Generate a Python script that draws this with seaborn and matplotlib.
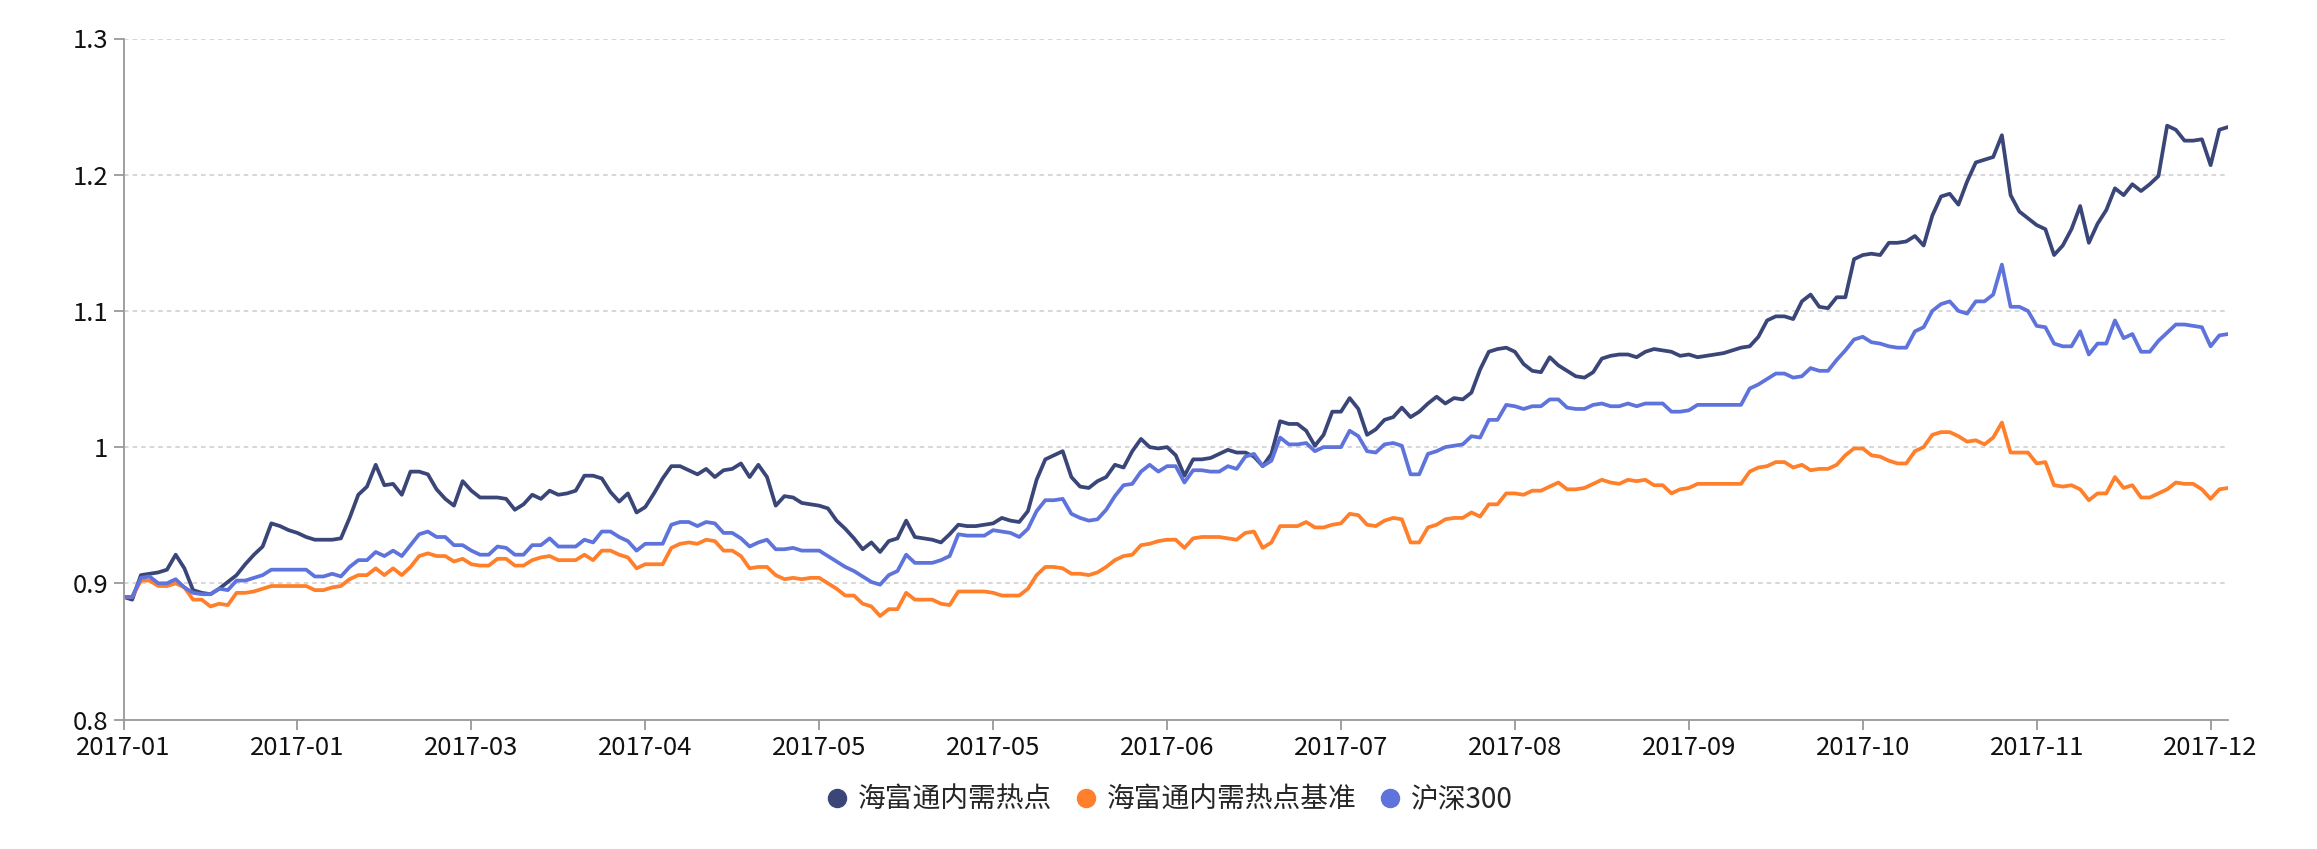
import numpy as np
import pandas as pd
import matplotlib
matplotlib.use("Agg")
import matplotlib.pyplot as plt
import seaborn as sns
from matplotlib.lines import Line2D
from matplotlib.ticker import FuncFormatter

series_names = ["海富通内需热点", "海富通内需热点基准", "沪深300"]
series_colors = ["#3a4678", "#ff7f2a", "#5e73db"]

x_tick_labels = ["2017-01", "2017-01", "2017-03", "2017-04", "2017-05", "2017-05",
                 "2017-06", "2017-07", "2017-08", "2017-09", "2017-10", "2017-11", "2017-12"]
label_every = 20
y_ticks = [0.8, 0.9, 1.0, 1.1, 1.2, 1.3]

fund = [
    0.890, 0.888, 0.906, 0.907, 0.908, 0.910, 0.921, 0.911, 0.895, 0.893,
    0.892, 0.896, 0.901, 0.906, 0.914, 0.921, 0.927, 0.944, 0.942, 0.939,
    0.937, 0.934, 0.932, 0.932, 0.932, 0.933, 0.948, 0.965, 0.971, 0.987,
    0.972, 0.973, 0.965, 0.982, 0.982, 0.980, 0.969, 0.962, 0.957, 0.975,
    0.968, 0.963, 0.963, 0.963, 0.962, 0.954, 0.958, 0.965, 0.962, 0.968,
    0.965, 0.966, 0.968, 0.979, 0.979, 0.977, 0.967, 0.960, 0.966, 0.952,
    0.956, 0.966, 0.977, 0.986, 0.986, 0.983, 0.980, 0.984, 0.978, 0.983,
    0.984, 0.988, 0.978, 0.987, 0.978, 0.957, 0.964, 0.963, 0.959, 0.958,
    0.957, 0.955, 0.946, 0.940, 0.933, 0.925, 0.930, 0.923, 0.931, 0.933,
    0.946, 0.934, 0.933, 0.932, 0.930, 0.936, 0.943, 0.942, 0.942, 0.943,
    0.944, 0.948, 0.946, 0.945, 0.953, 0.976, 0.991, 0.994, 0.997, 0.978,
    0.971, 0.970, 0.975, 0.978, 0.987, 0.985, 0.997, 1.006, 1.000, 0.999,
    1.000, 0.994, 0.979, 0.991, 0.991, 0.992, 0.995, 0.998, 0.996, 0.996,
    0.993, 0.986, 0.995, 1.019, 1.017, 1.017, 1.012, 1.001, 1.009, 1.026,
    1.026, 1.036, 1.028, 1.009, 1.013, 1.020, 1.022, 1.029, 1.022, 1.026,
    1.032, 1.037, 1.032, 1.036, 1.035, 1.040, 1.057, 1.070, 1.072, 1.073,
    1.070, 1.061, 1.056, 1.055, 1.066, 1.060, 1.056, 1.052, 1.051, 1.055,
    1.065, 1.067, 1.068, 1.068, 1.066, 1.070, 1.072, 1.071, 1.070, 1.067,
    1.068, 1.066, 1.067, 1.068, 1.069, 1.071, 1.073, 1.074, 1.081, 1.093,
    1.096, 1.096, 1.094, 1.107, 1.112, 1.103, 1.102, 1.110, 1.110, 1.138,
    1.141, 1.142, 1.141, 1.150, 1.150, 1.151, 1.155, 1.148, 1.170, 1.184,
    1.186, 1.178, 1.195, 1.209, 1.211, 1.213, 1.229, 1.185, 1.173, 1.168,
    1.163, 1.160, 1.141, 1.148, 1.160, 1.177, 1.150, 1.164, 1.174, 1.190,
    1.185, 1.193, 1.188, 1.193, 1.199, 1.236, 1.233, 1.225, 1.225, 1.226,
    1.207, 1.233, 1.235,
]

benchmark = [
    0.890, 0.890, 0.902, 0.902, 0.898, 0.898, 0.900, 0.897, 0.888, 0.888,
    0.883, 0.885, 0.884, 0.893, 0.893, 0.894, 0.896, 0.898, 0.898, 0.898,
    0.898, 0.898, 0.895, 0.895, 0.897, 0.898, 0.903, 0.906, 0.906, 0.911,
    0.906, 0.911, 0.906, 0.912, 0.920, 0.922, 0.920, 0.920, 0.916, 0.918,
    0.914, 0.913, 0.913, 0.918, 0.918, 0.913, 0.913, 0.917, 0.919, 0.920,
    0.917, 0.917, 0.917, 0.921, 0.917, 0.924, 0.924, 0.921, 0.919, 0.911,
    0.914, 0.914, 0.914, 0.926, 0.929, 0.930, 0.929, 0.932, 0.931, 0.924,
    0.924, 0.920, 0.911, 0.912, 0.912, 0.906, 0.903, 0.904, 0.903, 0.904,
    0.904, 0.900, 0.896, 0.891, 0.891, 0.885, 0.883, 0.876, 0.881, 0.881,
    0.893, 0.888, 0.888, 0.888, 0.885, 0.884, 0.894, 0.894, 0.894, 0.894,
    0.893, 0.891, 0.891, 0.891, 0.896, 0.906, 0.912, 0.912, 0.911, 0.907,
    0.907, 0.906, 0.908, 0.912, 0.917, 0.920, 0.921, 0.928, 0.929, 0.931,
    0.932, 0.932, 0.926, 0.933, 0.934, 0.934, 0.934, 0.933, 0.932, 0.937,
    0.938, 0.926, 0.930, 0.942, 0.942, 0.942, 0.945, 0.941, 0.941, 0.943,
    0.944, 0.951, 0.950, 0.943, 0.942, 0.946, 0.948, 0.947, 0.930, 0.930,
    0.941, 0.943, 0.947, 0.948, 0.948, 0.952, 0.949, 0.958, 0.958, 0.966,
    0.966, 0.965, 0.968, 0.968, 0.971, 0.974, 0.969, 0.969, 0.970, 0.973,
    0.976, 0.974, 0.973, 0.976, 0.975, 0.976, 0.972, 0.972, 0.966, 0.969,
    0.970, 0.973, 0.973, 0.973, 0.973, 0.973, 0.973, 0.982, 0.985, 0.986,
    0.989, 0.989, 0.985, 0.987, 0.983, 0.984, 0.984, 0.987, 0.994, 0.999,
    0.999, 0.994, 0.993, 0.990, 0.988, 0.988, 0.997, 1.000, 1.009, 1.011,
    1.011, 1.008, 1.004, 1.005, 1.002, 1.007, 1.018, 0.996, 0.996, 0.996,
    0.988, 0.989, 0.972, 0.971, 0.972, 0.969, 0.961, 0.966, 0.966, 0.978,
    0.970, 0.972, 0.963, 0.963, 0.966, 0.969, 0.974, 0.973, 0.973, 0.969,
    0.962, 0.969, 0.970,
]

hs300 = [
    0.890, 0.890, 0.904, 0.905, 0.900, 0.900, 0.903, 0.897, 0.893, 0.892,
    0.892, 0.896, 0.895, 0.902, 0.902, 0.904, 0.906, 0.910, 0.910, 0.910,
    0.910, 0.910, 0.905, 0.905, 0.907, 0.905, 0.912, 0.917, 0.917, 0.923,
    0.920, 0.924, 0.920, 0.928, 0.936, 0.938, 0.934, 0.934, 0.928, 0.928,
    0.924, 0.921, 0.921, 0.927, 0.926, 0.921, 0.921, 0.928, 0.928, 0.933,
    0.927, 0.927, 0.927, 0.932, 0.930, 0.938, 0.938, 0.934, 0.931, 0.924,
    0.929, 0.929, 0.929, 0.943, 0.945, 0.945, 0.942, 0.945, 0.944, 0.937,
    0.937, 0.933, 0.927, 0.930, 0.932, 0.925, 0.925, 0.926, 0.924, 0.924,
    0.924, 0.920, 0.916, 0.912, 0.909, 0.905, 0.901, 0.899, 0.906, 0.909,
    0.921, 0.915, 0.915, 0.915, 0.917, 0.920, 0.936, 0.935, 0.935, 0.935,
    0.939, 0.938, 0.937, 0.934, 0.940, 0.953, 0.961, 0.961, 0.962, 0.951,
    0.948, 0.946, 0.947, 0.954, 0.964, 0.972, 0.973, 0.982, 0.987, 0.982,
    0.986, 0.986, 0.974, 0.983, 0.983, 0.982, 0.982, 0.986, 0.984, 0.993,
    0.995, 0.986, 0.990, 1.007, 1.002, 1.002, 1.003, 0.997, 1.000, 1.000,
    1.000, 1.012, 1.008, 0.997, 0.996, 1.002, 1.003, 1.001, 0.980, 0.980,
    0.995, 0.997, 1.000, 1.001, 1.002, 1.008, 1.007, 1.020, 1.020, 1.031,
    1.030, 1.028, 1.030, 1.030, 1.035, 1.035, 1.029, 1.028, 1.028, 1.031,
    1.032, 1.030, 1.030, 1.032, 1.030, 1.032, 1.032, 1.032, 1.026, 1.026,
    1.027, 1.031, 1.031, 1.031, 1.031, 1.031, 1.031, 1.043, 1.046, 1.050,
    1.054, 1.054, 1.051, 1.052, 1.058, 1.056, 1.056, 1.064, 1.071, 1.079,
    1.081, 1.077, 1.076, 1.074, 1.073, 1.073, 1.085, 1.088, 1.100, 1.105,
    1.107, 1.100, 1.098, 1.107, 1.107, 1.112, 1.134, 1.103, 1.103, 1.100,
    1.089, 1.088, 1.076, 1.074, 1.074, 1.085, 1.068, 1.076, 1.076, 1.093,
    1.080, 1.083, 1.070, 1.070, 1.078, 1.084, 1.090, 1.090, 1.089, 1.088,
    1.074, 1.082, 1.083,
]

# ---------------------------------------------------------------------------
sns.set_theme(style="white")
plt.rcParams["font.family"] = ["Noto Sans CJK SC", "DejaVu Sans"]

W, H = 2317, 849
fig = plt.figure(figsize=(W / 100, H / 100), dpi=100)
left, right, top, bottom = 123.5, 2228, 38.5, 719.5
ax = fig.add_axes([left / W, (H - bottom) / H, (right - left) / W, (bottom - top) / H])

n = len(fund)
df = pd.DataFrame({
    "idx": np.arange(n),
    series_names[0]: fund,
    series_names[1]: benchmark,
    series_names[2]: hs300,
})
long_df = df.melt(id_vars="idx", var_name="series", value_name="value")

sns.lineplot(data=long_df, x="idx", y="value", hue="series", hue_order=series_names,
             palette=series_colors, linewidth=2.7, estimator=None, legend=False, ax=ax)

ax.set_xlim(0, n - 1)
ax.set_ylim(0.8, 1.3)
ax.set_xlabel("")
ax.set_ylabel("")

ax.set_yticks(y_ticks)
ax.yaxis.set_major_formatter(FuncFormatter(lambda v, p: f"{v:g}"))
ax.set_xticks(np.arange(len(x_tick_labels)) * label_every)
ax.set_xticklabels(x_tick_labels)

ax.set_axisbelow(True)
ax.yaxis.grid(True, linestyle=(0, (3, 2.6)), color="#cccccc", linewidth=1.1)
ax.xaxis.grid(False)

for side in ["top", "right"]:
    ax.spines[side].set_visible(False)
for side in ["left", "bottom"]:
    ax.spines[side].set_color("#999999")
    ax.spines[side].set_linewidth(1.3)

ax.tick_params(axis="both", which="major", direction="out", length=7, width=1.3,
               color="#999999", labelcolor="#111111", labelsize=18.5)
ax.tick_params(axis="x", pad=4.5, bottom=True)
ax.tick_params(axis="y", pad=4, left=True)

handles = [Line2D([0], [0], marker="o", linestyle="none", markersize=13,
                  markerfacecolor=c, markeredgecolor=c) for c in series_colors]
fig.legend(handles, series_names, loc="center", bbox_to_anchor=(1168 / W, 1 - 800 / H),
           ncol=3, frameon=False, fontsize=20, handletextpad=0.25, columnspacing=0.7,
           handlelength=1.0, borderaxespad=0)

fig.savefig("out.png", dpi=100)
